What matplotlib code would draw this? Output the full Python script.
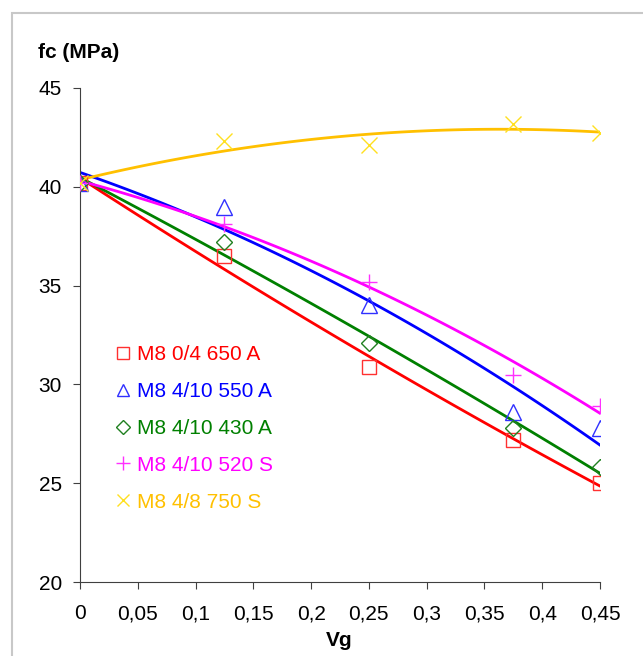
import numpy as np
import matplotlib.pyplot as plt
from matplotlib.lines import Line2D
from matplotlib.patches import Rectangle

plt.rcParams['font.family'] = ['Liberation Sans', 'DejaVu Sans']

vg = [0, 0.125, 0.25, 0.375, 0.45]

labels = ['M8 0/4 650 A', 'M8 4/10 550 A', 'M8 4/10 430 A', 'M8 4/10 520 S', 'M8 4/8 750 S']
fc_red = [40.2, 36.5, 30.9, 27.2, 25.0]
fc_blue = [40.2, 39.0, 34.0, 28.6, 27.8]
fc_green = [40.2, 37.2, 32.1, 27.8, 25.8]
fc_magenta = [40.2, 38.1, 35.2, 30.5, 28.9]
fc_yellow = [40.2, 42.3, 42.1, 43.2, 42.7]

xticks = [0, 0.05, 0.1, 0.15, 0.2, 0.25, 0.3, 0.35, 0.4, 0.45]
xticklabels = ['0', '0,05', '0,1', '0,15', '0,2', '0,25', '0,3', '0,35', '0,4', '0,45']
yticks = [20, 25, 30, 35, 40, 45]

series = [fc_red, fc_blue, fc_green, fc_magenta, fc_yellow]
line_cols = ['#ff0000', '#0000ff', '#008000', '#ff00ff', '#ffc000']
mark_cols = ['#ff3030', '#3030ff', '#208020', '#ff30ff', '#ffe020']
markers = ['s', '^', 'D', '+', 'x']
msizes = [10, 11, 8, 12, 11]

fig = plt.figure(figsize=(6.43, 6.56), dpi=100)
ax = fig.add_axes([0.1244, 0.1128, 0.8087, 0.7531])

# light frame around the chart area
fig.patches.append(Rectangle((12/643, -0.05), 1.0, 1 - 13/656 + 0.05,
                             transform=fig.transFigure, fill=False,
                             edgecolor='#c8c8c8', linewidth=1.5))

xs = np.linspace(0, 0.45, 100)
handles = []
for y, lc, mc, mk, ms, lab in zip(series, line_cols, mark_cols, markers, msizes, labels):
    # polynomial trend lines (order 2), like the spreadsheet trend lines
    p = np.polyfit(vg, y, 2)
    ax.plot(xs, np.polyval(p, xs), color=lc, lw=2.0, zorder=2)
    ax.plot(vg, y, linestyle='none', marker=mk, markersize=ms,
            markerfacecolor='none', markeredgecolor=mc, markeredgewidth=1.0, zorder=3)
    handles.append(Line2D([], [], linestyle='none', marker=mk, markersize=ms * 0.85,
                          markerfacecolor='none', markeredgecolor=mc,
                          markeredgewidth=1.0, color=lc, label=lab))

ax.set_xlim(0, 0.45)
ax.set_ylim(20, 45)
ax.set_xticks(xticks)
ax.set_xticklabels(xticklabels)
ax.set_yticks(yticks)
ax.tick_params(labelsize=15, length=5, width=0.8, color='#404040', direction='out')
ax.tick_params(axis='x', pad=11)
ax.tick_params(axis='y', pad=8)
ax.spines['top'].set_visible(False)
ax.spines['right'].set_visible(False)
ax.spines['left'].set_color('#404040')
ax.spines['bottom'].set_color('#404040')
ax.spines['left'].set_linewidth(0.8)
ax.spines['bottom'].set_linewidth(0.8)

leg = ax.legend(handles=handles, loc='upper left',
                bbox_to_anchor=(117/643, 1 - 345/656), bbox_transform=fig.transFigure,
                frameon=False, fontsize=15, handlelength=0.6, handletextpad=0.35,
                borderpad=0, borderaxespad=0, labelspacing=0.86, labelcolor=line_cols)

fig.text(38/643, 1 - 52/656, 'fc (MPa)', fontsize=15, fontweight='bold', va='center', ha='left')
fig.text(339/643, 1 - 640/656, 'Vg', fontsize=15, fontweight='bold', va='center', ha='center')

fig.savefig('out.png', dpi=100)
